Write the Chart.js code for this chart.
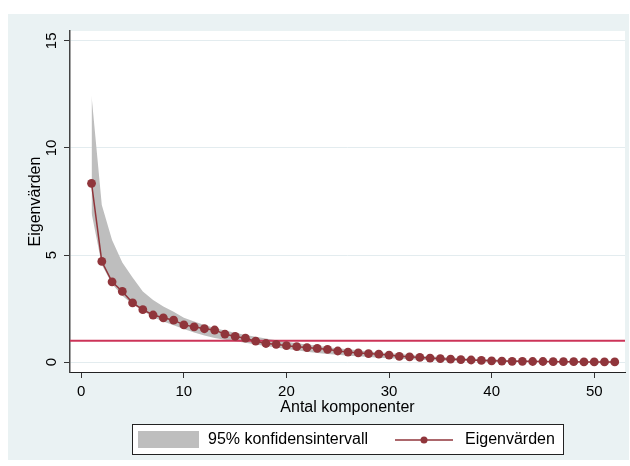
<!DOCTYPE html>
<html>
<head>
<meta charset="utf-8">
<title>Eigenvärden</title>
<script src="https://cdn.jsdelivr.net/npm/chart.js@4/dist/chart.umd.min.js"></script>
<style>
  html, body { margin: 0; padding: 0; background: #fff; }
</style>
</head>
<body>
<canvas id="screeChart" width="630" height="466"></canvas>
<script>
// komponentnummer
const components = [
  1, 2, 3, 4, 5, 6, 7, 8, 9, 10,
  11, 12, 13, 14, 15, 16, 17, 18, 19, 20,
  21, 22, 23, 24, 25, 26, 27, 28, 29, 30,
  31, 32, 33, 34, 35, 36, 37, 38, 39, 40,
  41, 42, 43, 44, 45, 46, 47, 48, 49, 50,
  51, 52
];

// observerade egenvärden
const eigenvalues = [
  8.35, 4.7, 3.75, 3.3, 2.77, 2.45, 2.2, 2.07, 1.96, 1.74,
  1.65, 1.56, 1.5, 1.31, 1.2, 1.12, 0.98, 0.87, 0.83, 0.77,
  0.72, 0.68, 0.64, 0.6, 0.52, 0.47, 0.43, 0.4, 0.37, 0.33,
  0.27, 0.25, 0.22, 0.19, 0.16, 0.14, 0.12, 0.1, 0.08, 0.06,
  0.05, 0.04, 0.04, 0.03, 0.03, 0.02, 0.02, 0.02, 0.01, 0.01,
  0.01, 0.01
];

// 95% konfidensintervall, övre och undre gräns
const ciUpper = [
  12.44, 7.34, 5.7, 4.65, 3.95, 3.3, 2.9, 2.6, 2.35, 2.07,
  1.9, 1.73, 1.6, 1.48, 1.37, 1.27, 1.18, 1.1, 1.02, 0.95,
  0.88, 0.82, 0.76, 0.7, 0.65, 0.6, 0.55, 0.5, 0.46, 0.42,
  0.38, 0.34, 0.3, 0.27, 0.24, 0.21, 0.19, 0.17, 0.15, 0.13,
  0.11, 0.1, 0.09, 0.08, 0.07, 0.06, 0.05, 0.04, 0.03, 0.03,
  0.02, 0.02
];
const ciLower = [
  6.96, 4.55, 3.65, 3.1, 2.7, 2.4, 2.1, 1.9, 1.72, 1.55,
  1.38, 1.24, 1.13, 1.05, 0.97, 0.9, 0.82, 0.75, 0.68, 0.61,
  0.55, 0.49, 0.43, 0.38, 0.34, 0.3, 0.27, 0.24, 0.21, 0.18,
  0.16, 0.13, 0.11, 0.09, 0.08, 0.07, 0.06, 0.05, 0.04, 0.03,
  0.03, 0.02, 0.02, 0.01, 0.01, 0.01, 0, 0, 0, 0,
  0, 0
];

const refValue = 1;
const xTicks = [0, 10, 20, 30, 40, 50];
const yTicks = [0, 5, 10, 15];
const xRange = [-1.1, 53];
const yRange = [-0.46, 15.46];
const legendLabels = ['95% konfidensintervall', 'Eigenvärden'];
const xTitle = 'Antal komponenter';
const yTitle = 'Eigenvärden';

const FONT = '"Liberation Sans", Arial, sans-serif';
const bandColor = '#bebebe';
const eigenColor = '#90353b';
const refColor = '#cc3458';

const toPoints = vals => vals.map((v, i) => ({ x: components[i], y: v }));

// bakgrund: ljusblå grafregion, vit plotregion
const background = {
  id: 'background',
  beforeDraw(chart) {
    const { ctx, chartArea: a } = chart;
    ctx.save();
    ctx.fillStyle = '#fff';
    ctx.fillRect(0, 0, chart.width, chart.height);
    ctx.fillStyle = '#eaf2f3';
    ctx.fillRect(8, 14, 621, 446);
    ctx.fillStyle = '#fff';
    ctx.fillRect(a.left, a.top, a.right - a.left, a.bottom - a.top);
    ctx.restore();
  }
};

// roterade y-etiketter, axeltitlar och legend
const annotations = {
  id: 'annotations',
  afterDraw(chart) {
    const { ctx, chartArea: a } = chart;
    const yScale = chart.scales.y;
    ctx.save();
    ctx.fillStyle = '#000';
    ctx.textAlign = 'center';
    ctx.textBaseline = 'middle';

    ctx.font = '15px ' + FONT;
    yTicks.forEach(v => {
      ctx.save();
      ctx.translate(52, yScale.getPixelForValue(v));
      ctx.rotate(-Math.PI / 2);
      ctx.fillText(String(v), 0, 0);
      ctx.restore();
    });

    ctx.font = '16px ' + FONT;
    ctx.fillText(xTitle, (a.left + a.right) / 2, 408);
    ctx.save();
    ctx.translate(36, (a.top + a.bottom) / 2);
    ctx.rotate(-Math.PI / 2);
    ctx.fillText(yTitle, 0, 0);
    ctx.restore();

    // legend
    ctx.fillStyle = '#fff';
    ctx.fillRect(132, 424, 431, 30);
    ctx.strokeStyle = '#222';
    ctx.lineWidth = 1;
    ctx.strokeRect(132.5, 424.5, 431, 30);
    ctx.fillStyle = bandColor;
    ctx.fillRect(138, 431, 61, 17);
    ctx.strokeStyle = eigenColor;
    ctx.lineWidth = 1.5;
    ctx.beginPath();
    ctx.moveTo(395, 440);
    ctx.lineTo(453, 440);
    ctx.stroke();
    ctx.fillStyle = eigenColor;
    ctx.beginPath();
    ctx.arc(424, 440, 3.5, 0, Math.PI * 2);
    ctx.fill();
    ctx.fillStyle = '#000';
    ctx.textAlign = 'left';
    ctx.fillText(legendLabels[0], 208, 440);
    ctx.fillText(legendLabels[1], 465, 440);
    ctx.restore();
  }
};

new Chart(document.getElementById('screeChart'), {
  type: 'line',
  data: {
    datasets: [
      {
        label: 'övre',
        data: toPoints(ciUpper),
        borderColor: 'transparent',
        borderWidth: 0,
        pointRadius: 0,
        fill: false,
        order: 3
      },
      {
        label: legendLabels[0],
        data: toPoints(ciLower),
        borderColor: 'transparent',
        borderWidth: 0,
        backgroundColor: bandColor,
        pointRadius: 0,
        fill: '-1',
        order: 2
      },
      {
        label: 'referens',
        data: [{ x: xRange[0], y: refValue }, { x: xRange[1], y: refValue }],
        borderColor: refColor,
        borderWidth: 2,
        pointRadius: 0,
        fill: false,
        order: 1
      },
      {
        label: legendLabels[1],
        data: toPoints(eigenvalues),
        borderColor: eigenColor,
        backgroundColor: eigenColor,
        borderWidth: 1.5,
        pointRadius: 4.4,
        pointBorderWidth: 0,
        fill: false,
        order: 0
      }
    ]
  },
  options: {
    responsive: false,
    animation: false,
    devicePixelRatio: 1,
    layout: { padding: { top: 31, right: 5, left: 0, bottom: 0 } },
    plugins: {
      legend: { display: false },
      tooltip: { enabled: false }
    },
    scales: {
      x: {
        type: 'linear',
        min: xRange[0],
        max: xRange[1],
        afterBuildTicks: scale => { scale.ticks = xTicks.map(v => ({ value: v })); },
        afterFit: scale => { scale.height = 94; },
        grid: { drawOnChartArea: false, tickLength: 6, tickColor: '#333' },
        border: { color: '#222', width: 1 },
        ticks: {
          color: '#000',
          font: { family: FONT, size: 15 },
          padding: 5,
          maxRotation: 0
        }
      },
      y: {
        type: 'linear',
        min: yRange[0],
        max: yRange[1],
        afterBuildTicks: scale => { scale.ticks = yTicks.map(v => ({ value: v })); },
        afterFit: scale => { scale.width = 70; },
        grid: { color: '#e3ecef', tickLength: 6, tickColor: '#333' },
        border: { color: '#444', width: 1.5 },
        ticks: { color: 'transparent', font: { family: FONT, size: 15 } }
      }
    }
  },
  plugins: [background, annotations]
});
</script>
</body>
</html>
